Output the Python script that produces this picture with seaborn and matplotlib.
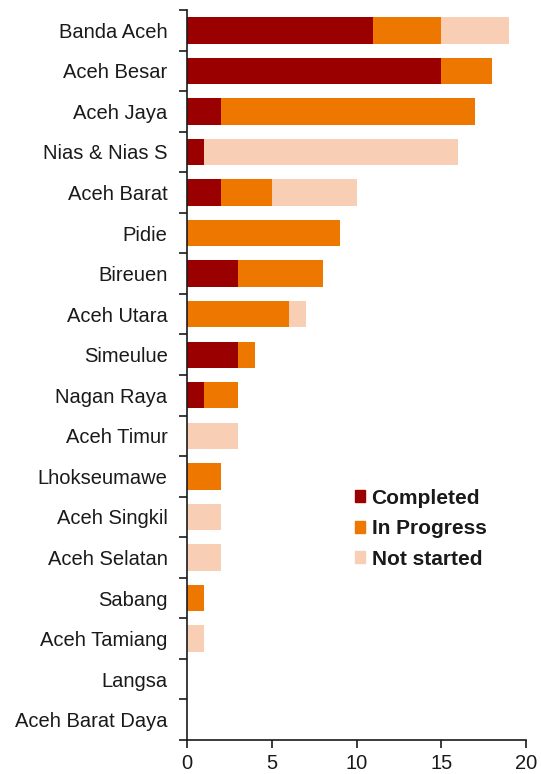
import numpy as np
import pandas as pd
import matplotlib
matplotlib.use("Agg")
import matplotlib.pyplot as plt
import seaborn as sns
from matplotlib.patches import Patch

regions = ["Banda Aceh", "Aceh Besar", "Aceh Jaya", "Nias & Nias S", "Aceh Barat",
           "Pidie", "Bireuen", "Aceh Utara", "Simeulue", "Nagan Raya", "Aceh Timur",
           "Lhokseumawe", "Aceh Singkil", "Aceh Selatan", "Sabang", "Aceh Tamiang",
           "Langsa", "Aceh Barat Daya"]
completed = [11, 15, 2, 1, 2, 0, 3, 0, 3, 1, 0, 0, 0, 0, 0, 0, 0, 0]
in_progress = [4, 3, 15, 0, 3, 9, 5, 6, 1, 2, 0, 2, 0, 0, 1, 0, 0, 0]
not_started = [4, 0, 0, 15, 5, 0, 0, 1, 0, 0, 3, 0, 2, 2, 0, 1, 0, 0]

df = pd.DataFrame({"region": regions, "Completed": completed,
                   "In Progress": in_progress, "Not started": not_started})
df["cp"] = df["Completed"] + df["In Progress"]
df["total"] = df["cp"] + df["Not started"]

c_done = "#9b0000"
c_prog = "#ee7700"
c_not = "#f8cfb4"
txt = "#1a1a1a"

sns.set_style("white")
plt.rcParams["font.family"] = ["Liberation Sans", "DejaVu Sans"]

fig = plt.figure(figsize=(5.41, 7.74), dpi=100)
ax = fig.add_axes([0.3457, 0.044, 0.6266, 0.943])

# stacked by overlaying cumulative totals
for col, c in [("total", c_not), ("cp", c_prog), ("Completed", c_done)]:
    sns.barplot(data=df, x=col, y="region", color=c, width=0.65, orient="h",
                saturation=1, linewidth=0, edgecolor="none", ax=ax)

ax.set_xlim(0, 20)
ax.set_ylim(len(regions) - 0.5, -0.5)
ax.set_xticks([0, 5, 10, 15, 20])
ax.set_xlabel("")
ax.set_ylabel("")
ax.set_yticks(range(len(regions)))
ax.set_yticklabels(regions)
ax.set_yticks(np.arange(-0.5, len(regions), 1), minor=True)
ax.tick_params(axis="y", which="major", left=False, length=0, pad=14,
               labelsize=14.5, labelcolor=txt)
ax.tick_params(axis="y", which="minor", left=True, length=6, width=1.2,
               color=txt, direction="out")
ax.tick_params(axis="x", bottom=True, length=6, width=1.2, color=txt, labelsize=14.5,
               labelcolor=txt, direction="out", pad=4)

sns.despine(ax=ax)
for s in ["left", "bottom"]:
    ax.spines[s].set_color(txt)
    ax.spines[s].set_linewidth(1.2)

handles = [Patch(color=c_done, label="Completed"),
           Patch(color=c_prog, label="In Progress"),
           Patch(color=c_not, label="Not started")]
leg = ax.legend(handles=handles, loc="upper left", bbox_to_anchor=(0.44, 0.37),
                frameon=False, handlelength=0.5, handleheight=0.5,
                handletextpad=0.3, labelspacing=0.55,
                prop={"weight": "bold", "size": 15})
for t in leg.get_texts():
    t.set_color(txt)

fig.savefig("out.png", dpi=100)
